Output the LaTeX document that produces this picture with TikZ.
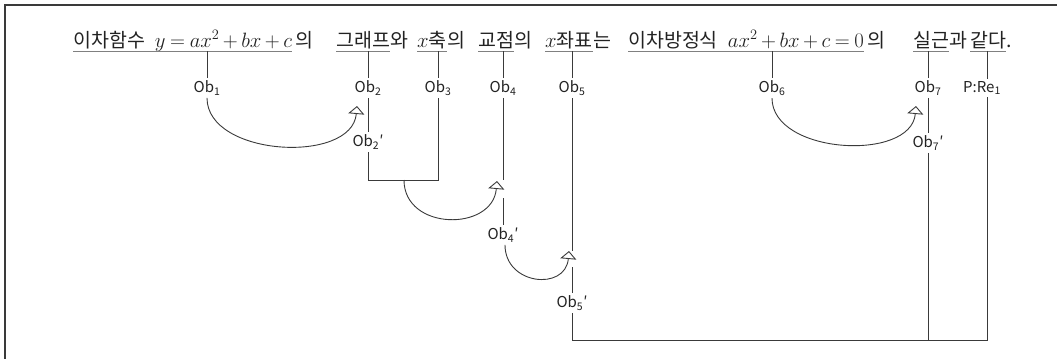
\documentclass[tikz,border=0pt]{standalone}
\usepackage{fontspec}
\setmainfont{Noto Sans CJK KR}
\usetikzlibrary{arrows.meta}
\definecolor{ink}{HTML}{222222}
\definecolor{wire}{HTML}{3A3A3A}
\definecolor{rule}{HTML}{808080}
\newcommand{\eqn}[1]{$\medmuskip=3mu\thickmuskip=4mu #1$}
\begin{document}
\begin{tikzpicture}[x=1pt,y=-1pt,
  txt/.style={inner sep=0pt, anchor=base west, text=ink, font=\fontsize{19.5}{23}\selectfont},
  lbl/.style={inner sep=2.5pt, text=ink, font=\fontsize{15}{18}\selectfont},
  ln/.style={draw=wire, line width=0.9pt},
  ul/.style={draw=rule, line width=1pt},
  arc/.style={ln, -{Triangle[open, width=16pt, length=8pt]}},
]
\useasboundingbox (0,0) rectangle (1057,359);
% frame edges
\draw[draw=wire, line width=1.6pt] (1057,5) -- (5,5) -- (5,359);

% sentence, word by word
\node[txt] (w1) at (73,47) {이차함수\hspace{10pt}\eqn{y=ax^2+bx+c}};
\node[txt] (s1) at ([xshift=3pt]w1.base east) {의};
\node[txt] (w2) at (336,47) {그래프};
\node[txt] (s2) at (w2.base east) {와};
\node[txt] (w3) at (417,47) {$x$축};
\node[txt] (s3) at (w3.base east) {의};
\node[txt] (w4) at (478,47) {교점};
\node[txt] (s4) at (w4.base east) {의};
\node[txt] (w5) at (545,47) {$x$좌표};
\node[txt] (s5) at (w5.base east) {는};
\node[txt] (w6) at (628,47) {이차방정식\hspace{10pt}\eqn{ax^2+bx+c=0}};
\node[txt] (s6) at ([xshift=3pt]w6.base east) {의};
\node[txt] (w7) at (913,47) {실근};
\node[txt] (s7) at (w7.base east) {과};
\node[txt] (w8) at (970,47) {같다};
\node[txt] (s8) at (w8.base east) {.};
\foreach \w in {w1,w2,w3,w4,w5,w6,w7,w8}
  \draw[ul] ([yshift=-4pt]\w.base west) -- ([yshift=-4pt]\w.base east);

% object labels
\node[lbl] (o1) at (207,88) {Ob\textsubscript{1}};
\node[lbl] (o2) at (368,88) {Ob\textsubscript{2}};
\node[lbl] (o3) at (438,88) {Ob\textsubscript{3}};
\node[lbl] (o4) at (503,88) {Ob\textsubscript{4}};
\node[lbl] (o5) at (572,88) {Ob\textsubscript{5}};
\node[lbl] (o6) at (772,88) {Ob\textsubscript{6}};
\node[lbl] (o7) at (928,88) {Ob\textsubscript{7}};
\node[lbl] (p1) at (982,88) {P:Re\textsubscript{1}};
\node[lbl] (o2p) at (368,142) {Ob\textsubscript{2}′};
\node[lbl] (o4p) at (503,235) {Ob\textsubscript{4}′};
\node[lbl] (o5p) at (572,303) {Ob\textsubscript{5}′};
\node[lbl] (o7p) at (928,143) {Ob\textsubscript{7}′};

% ticks up to the underlines
\coordinate (top) at (0,51);
\coordinate (k) at (987,340);
\foreach \o in {o1,o2,o3,o4,o5,o6,o7}
  \draw[ln] (\o.north) -- (\o.north |- top);
\draw[ln] (p1.north -| k) -- (top -| k);

% vertical chains and joins
\coordinate (j3) at (438,180);
\coordinate (m23) at (404,180);
\coordinate (b4) at (503,180);
\coordinate (r4) at (503,198);
\coordinate (b5) at (572,251);
\coordinate (r5) at (572,267);
\draw[ln] (o2.south) -- (o2p.north);
\draw[ln] (o2p.south) |- (j3) -- (o3.south);
\draw[ln] (o4.south) -- (b4);
\draw[ln] (r4) -- (o4p.north);
\draw[ln] (o5.south) -- (b5);
\draw[ln] (r5) -- (o5p.north);
\draw[ln] (o5p.south) |- (k) -- (p1.south -| k);
\draw[ln] (o7.south) -- (o7p.north);
\draw[ln] (o7p.south) -- (o7p.south |- k);

% curved arrows
\coordinate (t2) at (357,106);
\coordinate (t4) at (497,181);
\coordinate (t5) at (569,251);
\coordinate (t7) at (916,106);
\draw[arc] (o1.south) to[out=-90,in=-95] (t2);
\draw[arc, looseness=1.4] (m23) to[out=-90,in=-95] (t4);
\draw[arc, looseness=1.6] ([xshift=2pt]o4p.south) to[out=-90,in=-95] (t5);
\draw[arc] (o6.south) to[out=-90,in=-95] (t7);
\end{tikzpicture}
\end{document}
